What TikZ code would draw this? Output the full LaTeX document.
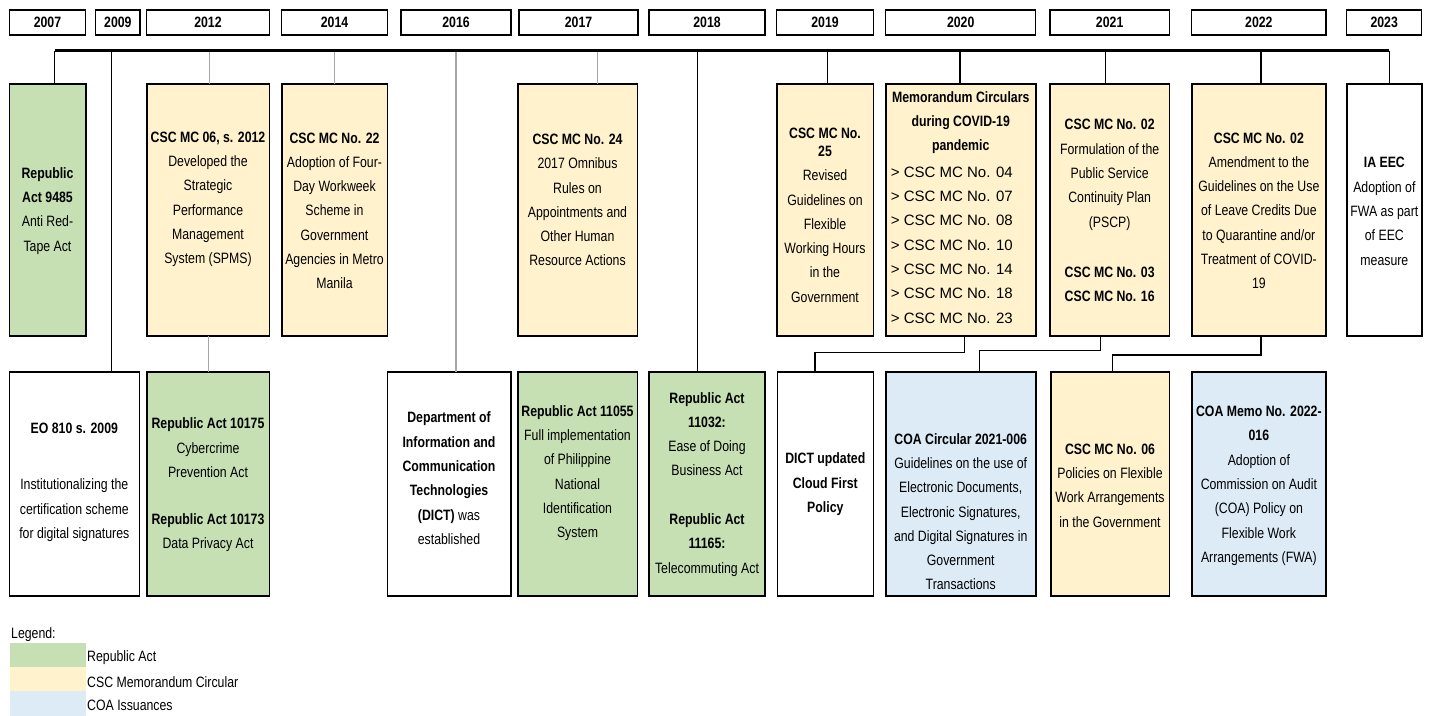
\documentclass[tikz,border=0pt]{standalone}
\usepackage{fontspec}
\setmainfont{Liberation Sans}[FakeStretch=0.82]
\newfontfamily\widefont{Liberation Sans}
\definecolor{ragreen}{HTML}{C6E0B4}
\definecolor{cscyellow}{HTML}{FFF2CC}
\definecolor{coablue}{HTML}{DDEBF7}
\definecolor{conngray}{HTML}{A6A6A6}
\newcommand{\mybox}[6]{%
  \node[boxst, fill=#2, minimum width={#4-#3}, minimum height={#6-#5}] (#1) at ({(#3+#4)/2},{(#5+#6)/2}) {};}
\begin{document}
\begin{tikzpicture}[x=1pt,y=-1pt,
  boxst/.style={draw=black, line width=1.6pt, rectangle, inner sep=0pt, outer sep=0pt},
  hdr/.style={draw=black, line width=1.3pt, fill=white, rectangle, inner sep=0pt, minimum height=25, font=\bfseries\fontsize{15}{18}\selectfont},
  txt/.style={align=center, inner sep=0pt, font=\fontsize{15}{24.3}\selectfont},
  conn/.style={line width=1.2pt, draw=black},
  gconn/.style={line width=1.2pt, draw=conngray},
  legtxt/.style={anchor=west, inner sep=0pt, font=\fontsize{15}{18}\selectfont},
  swatch/.style={rectangle, inner sep=0pt, minimum width=76, minimum height=24.3}
]
\useasboundingbox (0,0) rectangle (1431,715);

% ---- year headers
\node[hdr, minimum width=76.4] (h2007) at (47.5,22.5) {2007};
\node[hdr, minimum width=44.3] (h2009) at (117.85,22.5) {2009};
\node[hdr, minimum width=122.6] (h2012) at (208,22.5) {2012};
\node[hdr, minimum width=105.6] (h2014) at (334.5,22.5) {2014};
\node[hdr, minimum width=110] (h2016) at (456,22.5) {2016};
\node[hdr, minimum width=119] (h2017) at (578.5,22.5) {2017};
\node[hdr, minimum width=116] (h2018) at (707,22.5) {2018};
\node[hdr, minimum width=96.6] (h2019) at (825,22.5) {2019};
\node[hdr, minimum width=150] (h2020) at (960.7,22.5) {2020};
\node[hdr, minimum width=119.3] (h2021) at (1109.65,22.5) {2021};
\node[hdr, minimum width=134.3] (h2022) at (1258.85,22.5) {2022};
\node[hdr, minimum width=75] (h2023) at (1384.2,22.5) {2023};

% ---- top row boxes
\mybox{b9485}{ragreen}{9.3}{85.7}{84}{336}
\mybox{b06}{cscyellow}{146.7}{269.3}{84}{336}
\mybox{b22}{cscyellow}{281.7}{387.3}{84}{336}
\mybox{b24}{cscyellow}{517.7}{637.3}{84}{336}
\mybox{b25}{cscyellow}{776.7}{873.3}{84}{336}
\mybox{bmemo}{cscyellow}{885.7}{1035.7}{84}{336}
\mybox{b0221}{cscyellow}{1050}{1169.3}{84}{336}
\mybox{b0222}{cscyellow}{1191.7}{1326}{84}{336}
\mybox{beec}{white}{1346.7}{1422}{84}{336}

% ---- bottom row boxes
\mybox{beo}{white}{9.3}{139.3}{371.7}{596}
\mybox{b10175}{ragreen}{146.7}{269.3}{371.7}{596}
\mybox{bdict}{white}{387.3}{510.7}{371.7}{596}
\mybox{b11055}{ragreen}{517.7}{637.3}{371.7}{596}
\mybox{b11032}{ragreen}{649}{765}{371.7}{596}
\mybox{bcloud}{white}{777.3}{873.3}{371.7}{596}
\mybox{bcoac}{coablue}{885.7}{1035.7}{371.7}{596}
\mybox{b06b}{cscyellow}{1050.7}{1169.3}{371.7}{596}
\mybox{bcoam}{coablue}{1191.7}{1326}{371.7}{596}

% ---- top row texts
\node[txt] (t9485) at (b9485.center |- 0,210.8) {\textbf{Republic}\\\textbf{Act 9485}\\Anti Red-\\Tape Act};
\node[txt] (t06) at (b06.center |- 0,199.2) {\textbf{CSC MC 06, s. 2012}\\Developed the\\Strategic\\Performance\\Management\\System (SPMS)};
\node[txt] (t22) at (b22.center |- 0,210.8) {\textbf{CSC MC No. 22}\\Adoption of Four-\\Day Workweek\\Scheme in\\Government\\Agencies in Metro\\Manila};
\node[txt] (t24) at (b24.center |- 0,200) {\textbf{CSC MC No. 24}\\2017 Omnibus\\Rules on\\Appointments and\\Other Human\\Resource Actions};
\node[txt] (t25) at (b25.center |- 0,215) {\textbf{CSC MC No.}\\[-6pt]\textbf{25}\\Revised\\Guidelines on\\Flexible\\Working Hours\\in the\\Government};
\node[txt] (tmemo) at (bmemo.center |- 0,122.7) {\textbf{Memorandum Circulars}\\\textbf{during COVID-19}\\\textbf{pandemic}};
\node[txt, align=left, anchor=west, font=\widefont\fontsize{15}{24.3}\selectfont] (tmemol) at (890.7,245) {> CSC MC No. 04\\> CSC MC No. 07\\> CSC MC No. 08\\> CSC MC No. 10\\> CSC MC No. 14\\> CSC MC No. 18\\> CSC MC No. 23};
\node[txt] (t0221) at (b0221.center |- 0,210.5) {\textbf{CSC MC No. 02}\\Formulation of the\\Public Service\\Continuity Plan\\(PSCP)\\[25.7pt]\textbf{CSC MC No. 03}\\\textbf{CSC MC No. 16}};
\node[txt] (t0222) at (b0222.center |- 0,210.8) {\textbf{CSC MC No. 02}\\Amendment to the\\Guidelines on the Use\\of Leave Credits Due\\to Quarantine and/or\\Treatment of COVID-\\19};
\node[txt] (teec) at (beec.center |- 0,211.3) {\textbf{IA EEC}\\Adoption of\\FWA as part\\of EEC\\measure};

% ---- bottom row texts
\node[txt] (teo) at (beo.center |- 0,482) {\textbf{EO 810 s. 2009}\\[32.4pt]Institutionalizing the\\certification scheme\\for digital signatures};
\node[txt] (t10175) at (b10175.center |- 0,485) {\textbf{Republic Act 10175}\\Cybercrime\\Prevention Act\\[23pt]\textbf{Republic Act 10173}\\Data Privacy Act};
\node[txt] (tdict) at (bdict.center |- 0,478.3) {\textbf{Department of}\\\textbf{Information and}\\\textbf{Communication}\\\textbf{Technologies}\\\textbf{(DICT)} was\\established};
\node[txt] (t11055) at (b11055.center |- 0,473) {\textbf{Republic Act 11055}\\Full implementation\\of Philippine\\National\\Identification\\System};
\node[txt] (t11032) at (b11032.center |- 0,484.2) {\textbf{Republic Act}\\\textbf{11032:}\\Ease of Doing\\Business Act\\[24.3pt]\textbf{Republic Act}\\\textbf{11165:}\\Telecommuting Act};
\node[txt] (tcloud) at (bcloud.center |- 0,484.2) {\textbf{DICT updated}\\\textbf{Cloud First}\\\textbf{Policy}};
\node[txt] (tcoac) at (bcoac.center |- 0,511.7) {\textbf{COA Circular 2021-006}\\Guidelines on the use of\\Electronic Documents,\\Electronic Signatures,\\and Digital Signatures in\\Government\\Transactions};
\node[txt] (t06b) at (b06b.center |- 0,485.5) {\textbf{CSC MC No. 06}\\Policies on Flexible\\Work Arrangements\\in the Government};
\node[txt] (tcoam) at (bcoam.center |- 0,485.8) {\textbf{COA Memo No. 2022-}\\\textbf{016}\\Adoption of\\Commission on Audit\\(COA) Policy on\\Flexible Work\\Arrangements (FWA)};

% ---- timeline
\coordinate (c2007) at (54.5,50.7);
\coordinate (c2009) at (111.7,50.7);
\coordinate (c2012) at (209.3,50.7);
\coordinate (c2014) at (334.3,50.7);
\coordinate (c2016) at (456,50.7);
\coordinate (c2017) at (597.7,50.7);
\coordinate (c2018) at (697.7,50.7);
\coordinate (c2019) at (827.7,50.7);
\coordinate (c2020) at (960,50.7);
\coordinate (c2021) at (1105.7,50.7);
\coordinate (c2022) at (1261,50.7);
\coordinate (c2023) at (1389.3,50.7);

\draw[conn] (c2007) -- (c2007 |- b9485.north);
\draw[conn] (c2009) -- (c2009 |- beo.north);
\draw[gconn] (c2012) -- (c2012 |- b06.north);
\draw[gconn] (c2014) -- (c2014 |- b22.north);
\draw[gconn] (c2016) -- (c2016 |- bdict.north);
\draw[gconn] (c2017) -- (c2017 |- b24.north);
\draw[conn] (c2018) -- (c2018 |- b11032.north);
\draw[conn] (c2019) -- (c2019 |- b25.north);
\draw[conn] (c2020) -- (c2020 |- bmemo.north);
\draw[conn] (c2021) -- (c2021 |- b0221.north);
\draw[conn] (c2022) -- (c2022 |- b0222.north);
\draw[conn] (c2023) -- (c2023 |- beec.north);
\draw[line width=2.6pt] (c2007) -- (c2023);

% ---- lower connectors
\coordinate (k06) at (208.3,336);
\draw[gconn] (b06.south -| k06) -- (b10175.north -| k06);

\coordinate (e1a) at (964.3,352.7);
\coordinate (e1b) at (815,352.7);
\draw[conn] (bmemo.south -| e1a) -- (e1a) -- (e1b) -- (e1b |- bcloud.north);

\coordinate (e2a) at (1100.7,350.7);
\coordinate (e2b) at (979.3,350.7);
\draw[conn] (b0221.south -| e2a) -- (e2a) -- (e2b) -- (e2b |- bcoac.north);

\coordinate (e3a) at (1261,355);
\coordinate (e3b) at (1112.3,355);
\draw[conn] (b0222.south -| e3a) -- (e3a) -- (e3b) -- (e3b |- b06b.north);

% ---- legend
\node[legtxt] (leg) at (11,635) {Legend:};
\node[swatch, fill=ragreen] (sw1) at (48,655) {};
\node[swatch, fill=cscyellow] (sw2) at (48,679.3) {};
\node[swatch, fill=coablue] (sw3) at (48,703.6) {};
\node[legtxt] (lt1) at (87,658) {Republic Act};
\node[legtxt] (lt2) at (87,682) {CSC Memorandum Circular};
\node[legtxt] (lt3) at (87,705.5) {COA Issuances};
\end{tikzpicture}
\end{document}
